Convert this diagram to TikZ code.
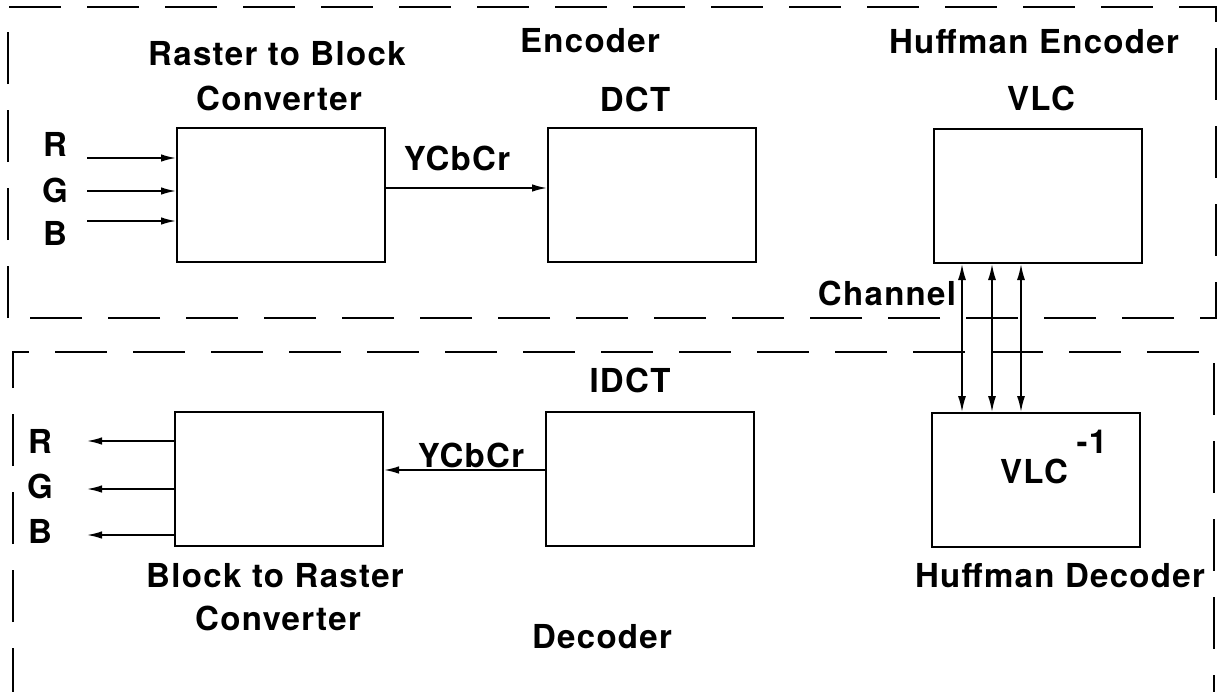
\documentclass[tikz,border=0pt]{standalone}
\usepackage{fontspec}
\setmainfont{TeX Gyre Heros}[LetterSpace=4]
\usetikzlibrary{arrows.meta}
\begin{document}
\begin{tikzpicture}[x=1pt,y=-1pt,
  blk/.style={draw,line width=2pt,minimum width=208pt,minimum height=134pt,inner sep=0pt},
  lbl/.style={font=\bfseries\fontsize{33}{36}\selectfont,anchor=base,inner sep=0pt},
  arr/.style={line width=1.6pt,-{Latex[length=15pt,width=7.5pt]}},
  darr/.style={line width=1.6pt,{Latex[length=16pt,width=8pt]}-{Latex[length=16pt,width=8pt]}},
  frame/.style={line width=2pt,dash pattern=on 52pt off 26pt}]
\useasboundingbox (0,0) rectangle (1217,691);
\fill[white] (0,0) rectangle (1217,691);
% frames
\draw[frame] (8,318) -- (8,7) -- (1216,7) -- (1216,318) -- cycle;
\draw[frame] (13,700) -- (13,352) -- (1214,352) -- (1214,700);
% boxes
\node[blk] (rb) at (281,195) {};
\node[blk] (dct) at (652,195) {};
\node[blk] (vlc) at (1038,196) {};
\node[blk] (br) at (279,479) {};
\node[blk] (idct) at (650,479) {};
\node[blk] (vlci) at (1036,480) {};
% labels
\node[lbl] (t1) at (277,65) {Raster to Block};
\node[lbl] (t2) at (279,110) {Converter};
\node[lbl] (t3) at (590,52) {Encoder};
\node[lbl] (t4) at (635,111) {DCT};
\node[lbl] (t5) at (1034,53) {Huffman Encoder};
\node[lbl] (t6) at (1041,110) {VLC};
\node[lbl] (t7) at (457,170) {YCbCr};
\node[lbl] (t8) at (887,305) {Channel};
\node[lbl] (t9) at (630,392) {IDCT};
\node[lbl] (t10) at (471,467) {YCbCr};
\node[lbl] (t11) at (275,587) {Block to Raster};
\node[lbl] (t12) at (278,630) {Converter};
\node[lbl] (t13) at (602,648) {Decoder};
\node[lbl] (t14) at (1060,587) {Huffman Decoder};
\node[lbl] (t15) at (1034,483) {VLC};
\node[lbl] (t16) at (1092,453) {-1};
\node[lbl] (lr1) at (55,156) {R};
\node[lbl] (lg1) at (55,202) {G};
\node[lbl] (lb1) at (55,245) {B};
\node[lbl] (lr2) at (40,453) {R};
\node[lbl] (lg2) at (40,498) {G};
\node[lbl] (lb2) at (40,543) {B};
% input arrows
\coordinate (ri) at (87,158);
\coordinate (gi) at (87,191);
\coordinate (bi) at (87,221);
\draw[arr] (ri) -- (ri -| rb.west);
\draw[arr] (gi) -- (gi -| rb.west);
\draw[arr] (bi) -- (bi -| rb.west);
% output arrows
\coordinate (ro) at (87,441);
\coordinate (go) at (87,489);
\coordinate (bo) at (87,535);
\draw[arr] (ro -| br.west) -- (ro);
\draw[arr] (go -| br.west) -- (go);
\draw[arr] (bo -| br.west) -- (bo);
% YCbCr arrows
\draw[arr] ([yshift=7pt]rb.east) -- ([yshift=7pt]dct.west);
\draw[arr] ([yshift=9pt]idct.west) -- ([yshift=9pt]br.east);
% channel arrows
\draw[darr] ([xshift=-76pt]vlc.south) coordinate (c1) -- (c1 |- vlci.north);
\draw[darr] ([xshift=-46pt]vlc.south) coordinate (c2) -- (c2 |- vlci.north);
\draw[darr] ([xshift=-17pt]vlc.south) coordinate (c3) -- (c3 |- vlci.north);
\end{tikzpicture}
\end{document}
